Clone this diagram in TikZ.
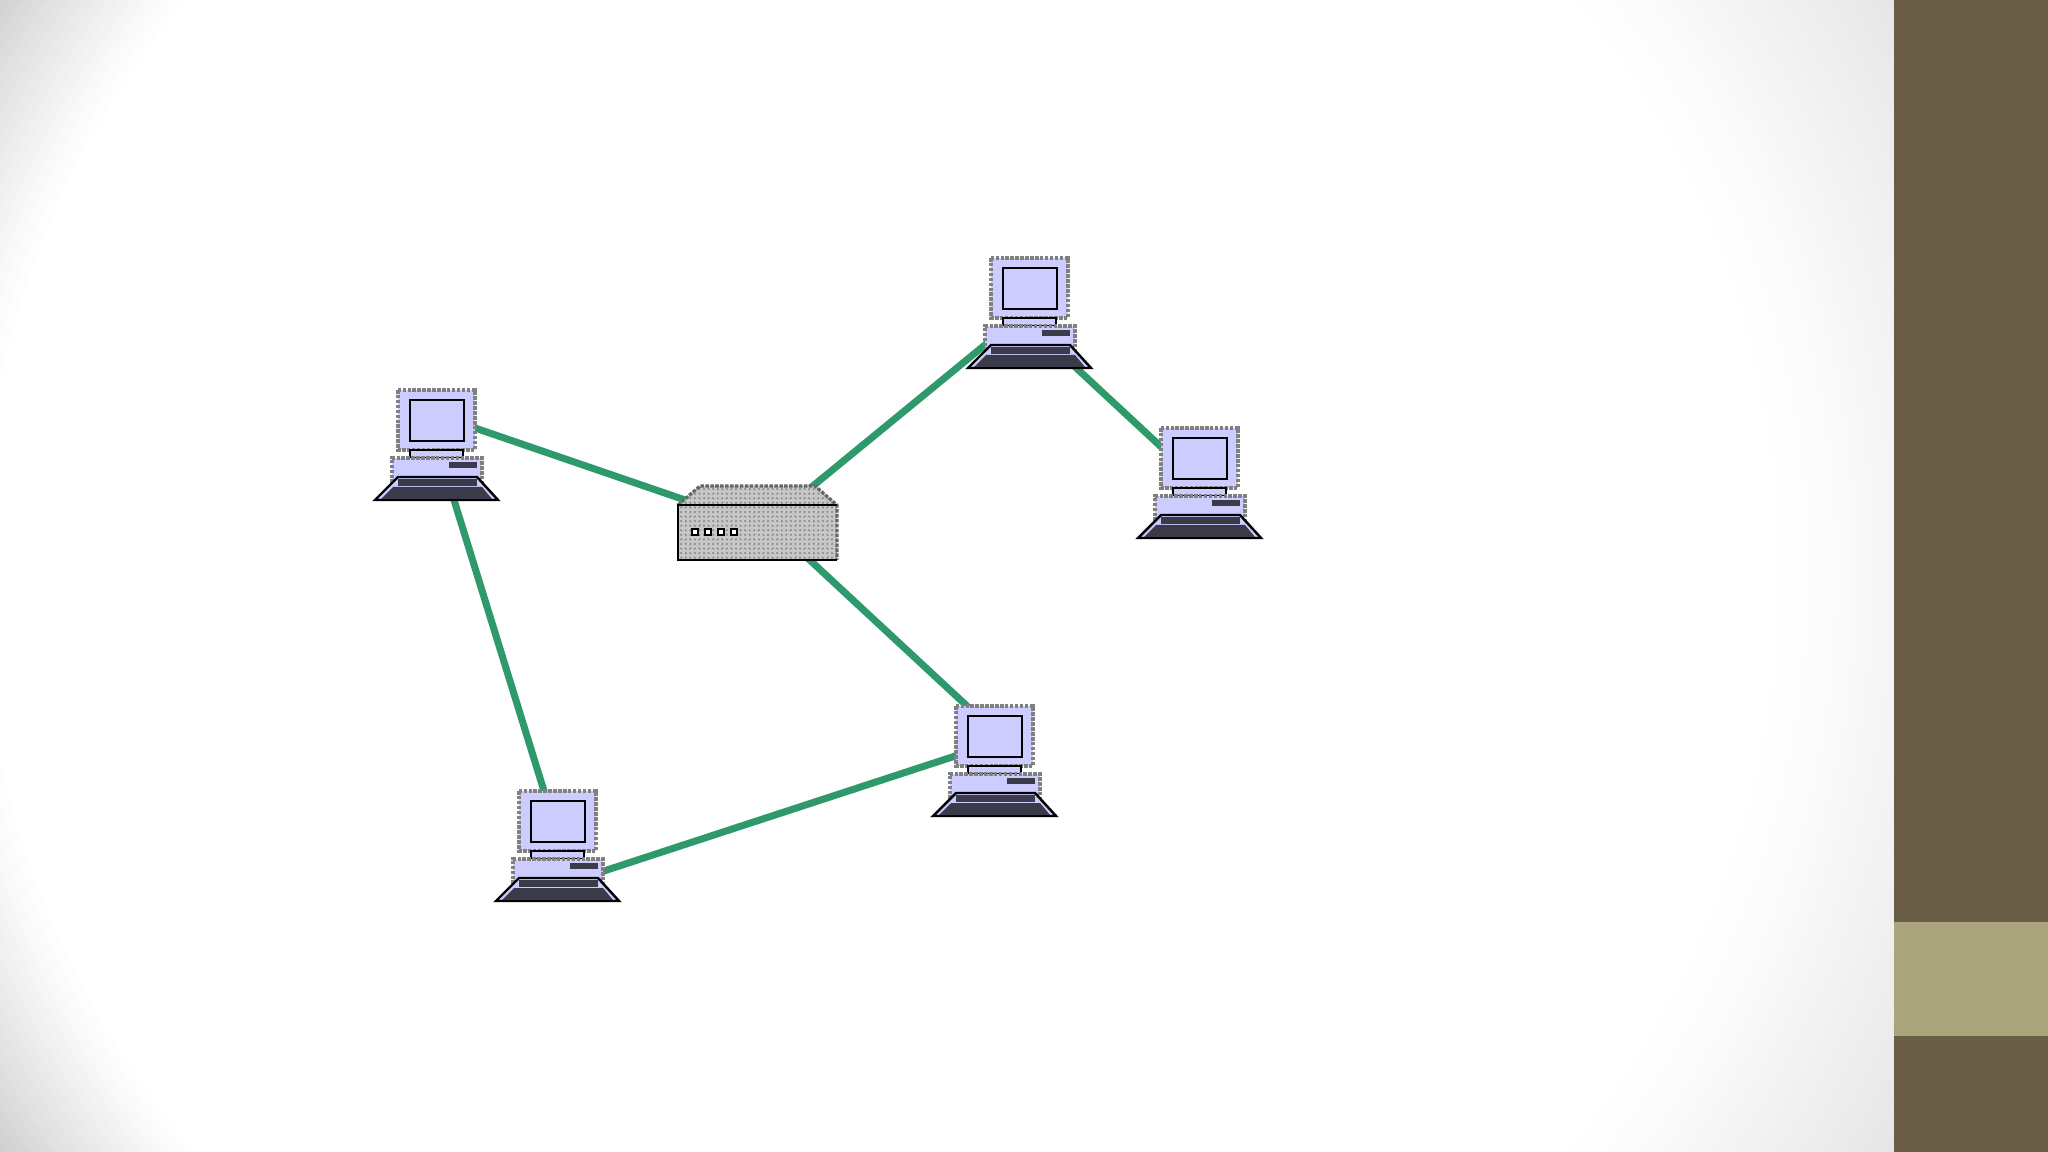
\documentclass[tikz,border=0pt]{standalone}
\usetikzlibrary{backgrounds,patterns.meta}
\definecolor{lila}{HTML}{CCCCFF}
\definecolor{verde}{HTML}{2E9A6C}
\definecolor{oscuro}{HTML}{3A3A48}
\definecolor{marron}{HTML}{6A5D45}
\definecolor{arena}{HTML}{AAA47C}
\begin{document}
\begin{tikzpicture}[x=0.01cm,y=-0.01cm,
        pc/.style={minimum width=1.22cm,minimum height=1.1cm,inner sep=0pt},
        sw/.style={minimum width=1.59cm,minimum height=0.75cm,inner sep=0pt},
        enlace/.style={verde,line width=2pt},
        borde/.style={draw=black!50,line width=0.9pt,dash pattern=on 1pt off 0.4pt},
        computer/.pic={
          \fill[lila] (-39,-55) rectangle (38,5);
          \draw[borde] (-39,-55) rectangle (38,5);
          \draw[line width=0.8pt,fill=lila] (-27,-45) rectangle (27,-4);
          \draw[line width=0.7pt,fill=lila] (-27,5) rectangle (26,13);
          \fill[lila] (-45,13) rectangle (45,38);
          \draw[borde] (-45,38) -- (-45,13) -- (45,13) -- (45,38);
          \fill[oscuro] (12,17) rectangle (40,23);
          \draw[line width=0.7pt,fill=lila] (-39,32) -- (40,32) -- (61,55) -- (-62,55) -- cycle;
          \fill[oscuro] (-39,34) rectangle (40,41);
          \fill[oscuro] (-44,42) -- (45,42) -- (55,54) -- (-56,54) -- cycle;
        },
        switch/.pic={
          \fill[black!22] (-58,-39) -- (57,-39) -- (79,-20) -- (79,35) -- (-80,35) -- (-80,-20) -- cycle;
          \path[pattern={Dots[radius=0.35pt,distance=1.3pt]},pattern color=black!45] (-58,-39) -- (57,-39) -- (79,-20) -- (79,35) -- (-80,35) -- (-80,-20) -- cycle;
          \draw[black!60,line width=0.9pt,dash pattern=on 1pt off 0.4pt] (-80,-20) -- (-58,-39) -- (57,-39) -- (79,-20) -- (79,35);
          \draw[line width=0.7pt] (79,-20) -- (-80,-20) -- (-80,35) -- (79,35);
          \foreach \i in {-63,-50,-37,-24}
            \draw[line width=0.8pt,fill=white] (\i-3,4) rectangle (\i+3,10);
        }]
        \useasboundingbox (0,0) rectangle (2048,1152);
        \begin{scope}[on background layer]
          \foreach \xi/\xf/\hondo/\ancho in {0/880/17/148,880/1894/10/269} {
            \begin{scope}
              \clip (\xi,0) rectangle (\xf,1152);
              \foreach \r in {1200,1190,...,900} {
                \pgfmathsetmacro{\gr}{\hondo*((\r-900)/\ancho)^1.2}
                \fill[white!\fpeval{100-\gr}!black] (880,570) circle [radius=\r];
              }
            \end{scope}
          }
          \fill[marron] (1894,0) rectangle (2048,1152);
          \fill[arena] (1894,922) rectangle (2048,1036);
        \end{scope}
        \foreach \n/\x/\y in {pc1/437/445,pc2/1030/313,pc3/1200/483,pc4/558/846,pc5/995/761} {
          \node[pc] (\n) at (\x,\y) {};
          \pic at (\n) {computer};
        }
        \node[sw] (hub) at (758,525) {};
        \pic at (hub) {switch};
        \begin{scope}[on background layer]
          \draw[enlace] ([yshift=0.3cm]pc1.center) -- (hub.center);
          \draw[enlace] (pc1.center) -- ([xshift=0.03cm]pc4.center);
          \draw[enlace] ([yshift=-0.06cm]hub.center) -- ([yshift=0.05cm]pc2.center);
          \draw[enlace] ([yshift=-0.12cm]pc2.center) -- (pc3.center);
          \draw[enlace] ([yshift=0.13cm]hub.center) -- ([yshift=0.29cm]pc5.center);
          \draw[enlace] ([yshift=-0.4cm]pc4.center) -- ([yshift=0.18cm]pc5.center);
        \end{scope}
      \end{tikzpicture}
\end{document}
